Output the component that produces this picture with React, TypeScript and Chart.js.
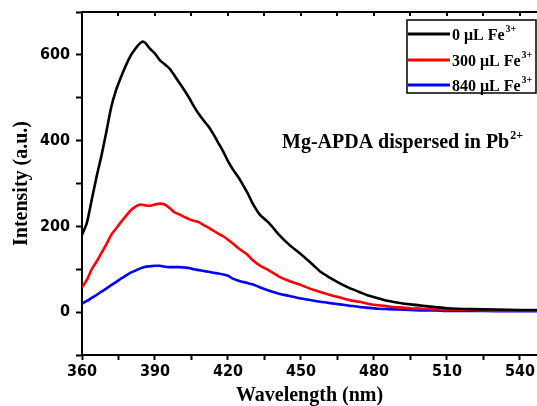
import React, { useEffect, useRef } from 'react';
import { Chart, registerables } from 'chart.js';

Chart.register(...registerables);

// Wavelength grid (nm)
const wavelengths = [
  360, 362, 364, 366, 368, 370, 372, 374, 376, 378, 380, 382, 384, 385, 386, 388, 390, 392, 394, 396,
  398, 400, 402, 404, 406, 408, 410, 412, 414, 416, 418, 420, 422, 425, 428, 430, 433, 437, 441, 445,
  450, 455, 458, 462, 466, 470, 474, 478, 482, 486, 490, 495, 500, 505, 510, 520, 530, 540, 550,
];

// 0 μL Fe3+
const intensity0 = [
  180, 208, 262, 316, 365, 420, 478, 518, 548, 575, 598, 615, 628, 631, 628, 614, 603, 588, 578, 568,
  552, 535, 518, 500, 480, 462, 447, 433, 415, 395, 375, 352, 333, 308, 278, 255, 228, 207, 180, 158,
  135, 110, 94, 80, 67, 56, 47, 38, 32, 26, 22, 18, 15, 12, 9, 7, 6, 5, 5,
];

// 300 μL Fe3+
const intensity300 = [
  58, 75, 100, 118, 138, 158, 180, 195, 210, 224, 237, 246, 251, 250, 249, 248, 251, 253, 251, 243,
  233, 228, 222, 217, 213, 210, 203, 197, 190, 183, 177, 169, 160, 146, 134, 122, 109, 97, 83, 73,
  63, 52, 47, 40, 34, 28, 24, 19, 16, 13, 11, 9, 8, 7, 6, 5, 4, 4, 4,
];

// 840 μL Fe3+
const intensity840 = [
  20, 26, 33, 40, 48, 55, 63, 70, 78, 85, 92, 97, 102, 104, 106, 107, 108, 108, 106, 105,
  105, 105, 104, 103, 100, 98, 96, 94, 92, 90, 88, 85, 78, 72, 68, 65, 58, 50, 43, 38,
  32, 27, 24, 21, 18, 15, 12, 10, 8, 7, 6, 5, 4, 4, 3, 3, 2, 2, 2,
];

const seriesLabels = ['0 μL Fe', '300 μL Fe', '840 μL Fe'];
const seriesSup = '3+';
const seriesColors = ['#000000', '#ff0000', '#0000ff'];

const xTickLabels = [360, 390, 420, 450, 480, 510, 540];
const yTickLabels = [0, 200, 400, 600];

const annotationText = 'Mg-APDA dispersed in Pb';
const annotationSup = '2+';

const xTitle = 'Wavelength (nm)';
const yTitle = 'Intensity (a.u.)';

const serif = '"Liberation Serif", "Times New Roman", serif';
const narrow = '"Liberation Sans Narrow", "Arial Narrow", "DejaVu Sans Condensed", "Liberation Sans", sans-serif';

const framePlugin = {
  id: 'frameAndLegend',
  afterDraw(chart: any) {
    const { ctx, chartArea: a } = chart;
    const xs = chart.scales.x;
    ctx.save();
    // top frame line with inward ticks
    ctx.strokeStyle = '#000';
    ctx.lineWidth = 2;
    ctx.beginPath();
    ctx.moveTo(a.left - 1, a.top);
    ctx.lineTo(a.right, a.top);
    xs.ticks.forEach((t: any) => {
      const px = Math.round(xs.getPixelForValue(t.value));
      ctx.moveTo(px, a.top);
      ctx.lineTo(px, a.top + 4);
    });
    ctx.stroke();

    // annotation
    ctx.fillStyle = '#000';
    ctx.textBaseline = 'alphabetic';
    ctx.textAlign = 'left';
    const ax = a.left + 200;
    const ay = a.top + 136;
    ctx.font = `bold 20px ${serif}`;
    ctx.fillText(annotationText, ax, ay);
    const aw = ctx.measureText(annotationText).width;
    ctx.font = `bold 12px ${serif}`;
    ctx.fillText(annotationSup, ax + aw + 1, ay - 9);

    // legend box
    const bx = a.right - 130;
    const by = a.top + 8;
    const bw = 129;
    const bh = 73;
    ctx.lineWidth = 1.5;
    ctx.strokeRect(bx, by, bw, bh);
    const rows = [14, 40, 65];
    chart.data.datasets.forEach((ds: any, i: number) => {
      const ry = by + rows[i];
      ctx.strokeStyle = ds.borderColor;
      ctx.lineWidth = 3;
      ctx.beginPath();
      ctx.moveTo(bx + 1, ry);
      ctx.lineTo(bx + 43, ry);
      ctx.stroke();
      ctx.fillStyle = '#000';
      ctx.font = `bold 16px ${serif}`;
      ctx.fillText(seriesLabels[i], bx + 45, ry + 6);
      const w = ctx.measureText(seriesLabels[i]).width;
      ctx.font = `bold 10px ${serif}`;
      ctx.fillText(seriesSup, bx + 45 + w + 1, ry - 2);
    });
    ctx.restore();
  },
};

export default function App() {
  const ref = useRef<HTMLCanvasElement | null>(null);

  useEffect(() => {
    if (!ref.current) return;
    const series = [intensity0, intensity300, intensity840];
    const chart = new Chart(ref.current, {
      type: 'line',
      data: {
        datasets: series.map((vals, i) => ({
          label: seriesLabels[i] + '³⁺',
          data: wavelengths.map((w, j) => ({ x: w, y: vals[j] })),
          borderColor: seriesColors[i],
          backgroundColor: seriesColors[i],
          borderWidth: 2.6,
          pointRadius: 0,
          tension: 0.25,
          fill: false,
        })),
      },
      options: {
        responsive: false,
        animation: false,
        devicePixelRatio: 1,
        layout: { padding: { top: 12, right: 0, bottom: 0, left: 0 } },
        plugins: {
          legend: { display: false },
          tooltip: { enabled: false },
        },
        scales: {
          x: {
            type: 'linear',
            min: 360,
            max: 547,
            afterFit: (s: any) => {
              s.height = 51;
              s.paddingLeft = 0;
              s.paddingRight = 0;
            },
            ticks: {
              stepSize: 15,
              includeBounds: false,
              autoSkip: false,
              maxRotation: 0,
              padding: 2,
              color: '#000',
              font: { family: narrow, size: 16, weight: 'bold' },
              callback: (v: any) => (xTickLabels.includes(Number(v)) ? String(v) : ''),
            },
            grid: {
              drawOnChartArea: false,
              drawTicks: true,
              tickLength: 5,
              tickColor: '#000',
              tickWidth: 2,
            },
            border: { display: true, color: '#000', width: 2 },
            title: {
              display: true,
              text: xTitle,
              color: '#000',
              font: { family: serif, size: 20, weight: 'bold' },
              padding: { top: 0, bottom: -2 },
            },
          },
          y: {
            type: 'linear',
            min: -100,
            max: 700,
            afterFit: (s: any) => {
              s.width = 82;
              s.paddingTop = 0;
              s.paddingBottom = 0;
            },
            ticks: {
              stepSize: 100,
              autoSkip: false,
              padding: 6,
              color: '#000',
              font: { family: narrow, size: 16, weight: 'bold' },
              callback: (v: any) => (yTickLabels.includes(Number(v)) ? String(v) : ''),
            },
            grid: {
              drawOnChartArea: false,
              drawTicks: true,
              tickLength: 6,
              tickColor: '#000',
              tickWidth: 2,
            },
            border: { display: true, color: '#000', width: 2 },
            title: {
              display: true,
              text: yTitle,
              color: '#000',
              font: { family: serif, size: 20, weight: 'bold' },
              padding: { top: 10, bottom: 0 },
            },
          },
        },
      },
      plugins: [framePlugin],
    });
    return () => chart.destroy();
  }, []);

  return (
    <div
      style={{
        position: 'fixed',
        left: 0,
        top: 0,
        width: 537,
        height: 406,
        overflow: 'hidden',
        background: '#fff',
      }}
    >
      <canvas ref={ref} width={537} height={406} style={{ width: 537, height: 406, display: 'block' }} />
    </div>
  );
}
